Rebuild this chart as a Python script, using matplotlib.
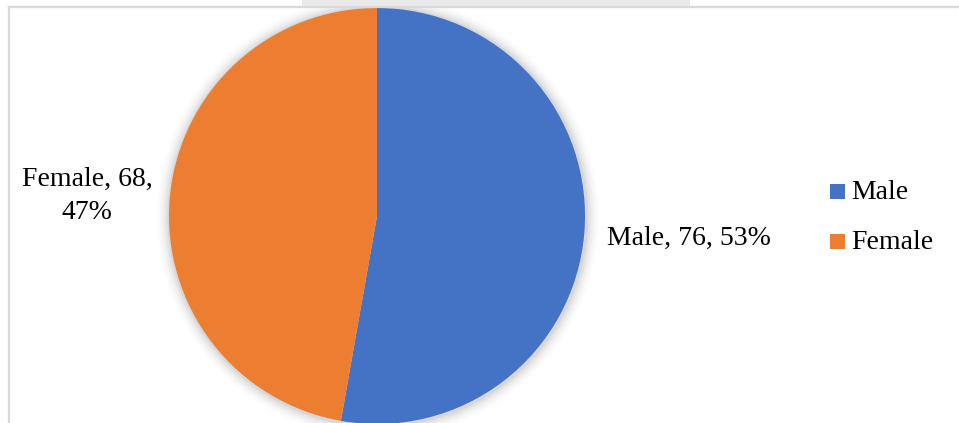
import matplotlib
matplotlib.use("Agg")
import matplotlib.pyplot as plt
from matplotlib.patches import Rectangle, Circle
from matplotlib.lines import Line2D

categories = ["Male", "Female"]
values = [76, 68]
colors = ["#4472C4", "#ED7D31"]

W, H = 959, 423
fig = plt.figure(figsize=(W / 100, H / 100), dpi=100)
fig.patch.set_facecolor("white")

def fx(px):
    return px / W

def fy(py):
    return (H - py) / H

# watermark band at top
fig.add_artist(Rectangle((fx(302), fy(7)), fx(690) - fx(302), fy(0) - fy(7),
                         transform=fig.transFigure, facecolor="#E9E9E9", edgecolor="none"))
# chart frame
fig.add_artist(Line2D([fx(9), fx(9)], [fy(7), fy(H + 5)], transform=fig.transFigure,
                      color="#D9D9D9", lw=1.6))
fig.add_artist(Line2D([fx(9), fx(W + 5)], [fy(7), fy(7)], transform=fig.transFigure,
                      color="#D9D9D9", lw=1.6))

cx, cy, r = 377, 216, 208
ax = fig.add_axes([fx(cx - r), fy(cy + r), fx(2 * r), (2 * r) / H])
ax.set_xlim(-1, 1)
ax.set_ylim(-1, 1)
ax.set_aspect("equal")
ax.axis("off")

# soft shadow
for i, a in enumerate([0.05, 0.04, 0.03, 0.02, 0.015]):
    ax.add_patch(Circle((0.004, -0.004), 1.0 + 0.012 * (i + 1), facecolor="black",
                        edgecolor="none", alpha=a, zorder=0, clip_on=False))

ax.pie(values, colors=colors, startangle=90, counterclock=False, radius=1.0,
       wedgeprops=dict(linewidth=0), frame=False)
ax.set_xlim(-1, 1)
ax.set_ylim(-1, 1)

total = sum(values)
pcts = [round(v * 100 / total) for v in values]

font = "Liberation Serif"
fs = 20
fig.text(fx(87), fy(196), f"{categories[1]}, {values[1]},\n{pcts[1]}%", ha="center",
         va="center", fontsize=fs, family=font, color="#000000", linespacing=1.4)
fig.text(fx(607), fy(238), f"{categories[0]}, {values[0]}, {pcts[0]}%", ha="left",
         va="center", fontsize=fs, family=font, color="#000000")

# legend
leg_y = [192, 242]
for cat, col, ly in zip(categories, colors, leg_y):
    fig.add_artist(Rectangle((fx(830), fy(ly + 7)), fx(15), 15 / H,
                             transform=fig.transFigure, facecolor=col, edgecolor="none"))
    fig.text(fx(851), fy(ly), cat, ha="left", va="center", fontsize=fs, family=font,
             color="#000000")

fig.savefig("out.png", dpi=100, facecolor="white")
